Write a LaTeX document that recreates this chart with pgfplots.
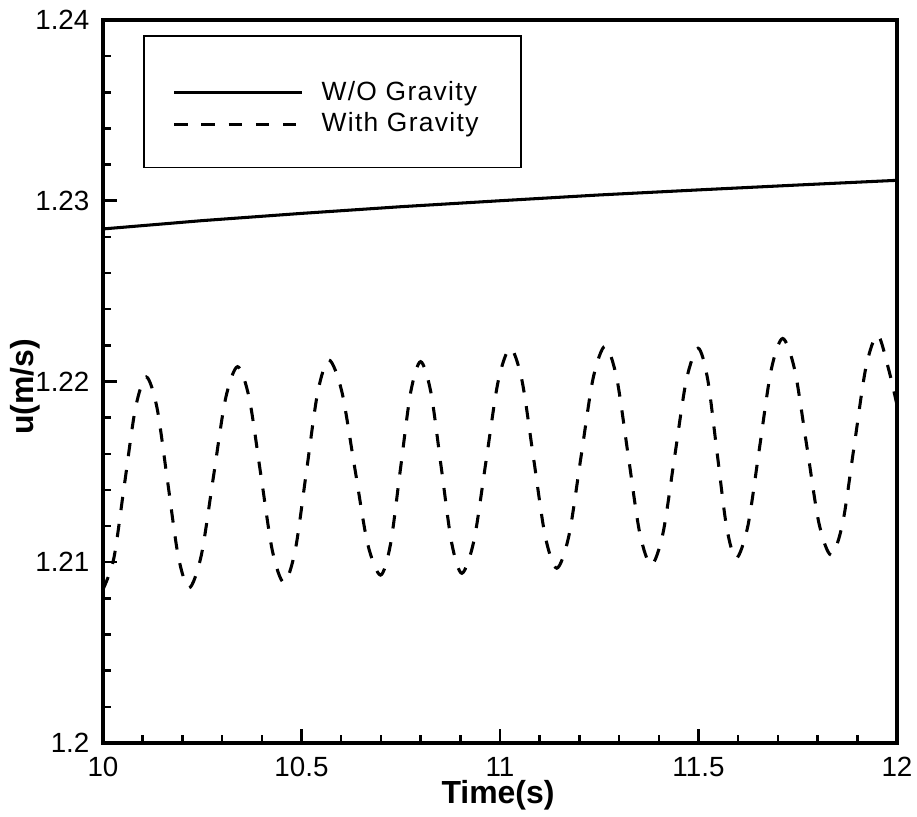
\documentclass[border=0pt]{standalone}
\usepackage{fontspec}
\setmainfont{Liberation Sans}
\usepackage{pgfplots}
\pgfplotsset{compat=1.18}
\begin{document}
\begin{tikzpicture}
\path[use as bounding box] (-37.08pt,-26.64pt) rectangle (293.04pt,267.48pt);
\begin{axis}[
  scale only axis,
  width=285.84pt, height=260.28pt,
  xmin=10, xmax=12, ymin=1.2, ymax=1.24,
  xtick={10,10.5,11,11.5,12},
  ytick={1.2,1.21,1.22,1.23,1.24},
  xticklabels={10,10.5,11,11.5,12},
  yticklabels={1.2,1.21,1.22,1.23,1.24},
  minor x tick num=4, minor y tick num=4,
  tick pos=left, tick align=inside,
  major tick length=5.2pt, minor tick length=2.8pt,
  every tick/.style={black, line width=0.9pt},
  axis line style={line width=1.2pt},
  /pgf/number format/assume math mode=true,
  tick label style={font=\fontsize{10}{12}\selectfont, inner sep=0pt},
  xticklabel style={yshift=-5pt},
  yticklabel style={xshift=-4.7pt},
  every axis x label/.style={at={(axis description cs:0.4975,-0.0725)}, anchor=center, inner sep=0pt, font=\fontsize{11.5}{13}\selectfont\bfseries},
  every axis y label/.style={at={(axis description cs:-0.0983,0.4924)}, anchor=center, rotate=90, font=\fontsize{11.5}{13}\selectfont\bfseries},
  xlabel={Time(s)}, ylabel={u(m/s)},
  legend cell align=left,
  legend image code/.code={\draw[#1] (0pt,0pt) -- (46pt,0pt);},
  legend style={at={(rel axis cs:0.0504,0.9793)}, anchor=north west, draw=black, line width=0.6pt,
    inner xsep=10.4pt, inner ysep=11.4pt, row sep=3pt,
    font=\fontsize{9.5}{11}\selectfont\addfontfeature{LetterSpace=5},
    nodes={inner sep=0pt}, column sep=6.5pt},
]
\addlegendimage{empty legend}
\addlegendentry{\rule{0pt}{0.4pt}}
\addplot[black, line width=1.1pt] coordinates {
(10.00,1.22844) (10.25,1.22890) (10.50,1.22930) (10.75,1.22967) (11.00,1.23000)
(11.25,1.23032) (11.50,1.23060) (11.75,1.23087) (12.00,1.23113)};
\addlegendentry{\makebox[61.4pt][l]{W/O Gravity}}
\addplot[black, line width=1.1pt, dash pattern=on 4.8pt off 5pt, smooth] coordinates {
(10.000,1.20850) (10.0273,1.21022) (10.0545,1.21438) (10.0818,1.21853)
(10.109,1.22025) (10.136,1.21855) (10.163,1.21442) (10.190,1.21028)
(10.217,1.20858) (10.2475,1.21037) (10.278,1.21470) (10.3085,1.21903)
(10.339,1.22082) (10.3683,1.21908) (10.3975,1.21485) (10.4268,1.21062)
(10.456,1.20887) (10.4843,1.21067) (10.5125,1.21503) (10.5408,1.21939)
(10.569,1.22119) (10.6015,1.21945) (10.634,1.21524) (10.6665,1.21103)
(10.699,1.20929) (10.7243,1.21101) (10.7495,1.21520) (10.7748,1.21938)
(10.800,1.22110) (10.826,1.21939) (10.852,1.21525) (10.878,1.21110)
(10.904,1.20939) (10.9345,1.21121) (10.965,1.21562) (10.9955,1.22002)
(11.026,1.22184) (11.0553,1.22006) (11.0845,1.21576) (11.1138,1.21145)
(11.143,1.20967) (11.1735,1.21146) (11.204,1.21582) (11.2345,1.22017)
(11.265,1.22196) (11.294,1.22019) (11.323,1.21590) (11.352,1.21162)
(11.381,1.20985) (11.4105,1.21160) (11.440,1.21585) (11.4695,1.22009)
(11.499,1.22184) (11.523,1.22014) (11.547,1.21603) (11.571,1.21192)
(11.595,1.21022) (11.6243,1.21200) (11.6535,1.21630) (11.6828,1.22061)
(11.712,1.22238) (11.7425,1.22063) (11.773,1.21640) (11.8035,1.21215)
(11.834,1.21040) (11.8633,1.21218) (11.8925,1.21649) (11.9218,1.22079)
(11.951,1.22257) (11.978,1.22075) (12.000,1.21870)};
\addlegendentry{With Gravity}
\end{axis}
\end{tikzpicture}
\end{document}
